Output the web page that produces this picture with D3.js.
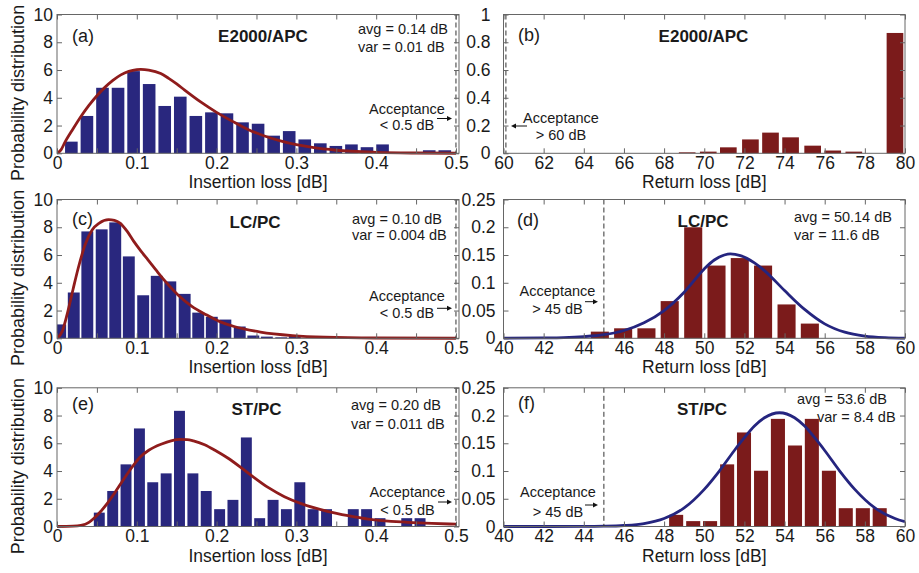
<!DOCTYPE html>
<html>
<head>
<meta charset="utf-8">
<script src="https://cdn.jsdelivr.net/npm/d3@7/dist/d3.min.js"></script>
<style>
  body { margin: 0; background: #fff; }
  svg { display: block; font-family: "Liberation Sans", Arial, sans-serif; }
  .tick line { stroke: #666; }
  .tick text { fill: #1a1a1a; font-size: 17.5px; font-family: "Liberation Sans", Arial, sans-serif; }
</style>
</head>
<body>
<svg id="chart" width="919" height="573"></svg>
<script>
// ---------- data: insertion loss (left column) ----------
const ilTicks = [0, 0.05, 0.1, 0.15, 0.2, 0.25, 0.3, 0.35, 0.4, 0.45, 0.5];
const ilProbTicks = [0, 2, 4, 6, 8, 10];

// (a) E2000/APC
const aBins = [0.018, 0.0375, 0.057, 0.0765, 0.096, 0.1155, 0.135, 0.1545, 0.174, 0.1935, 0.213, 0.2325,
  0.252, 0.2715, 0.291, 0.3105, 0.33, 0.3495, 0.369, 0.3885, 0.408, 0.4275, 0.447, 0.4665, 0.486];
const aProb = [0.84, 2.69, 4.72, 4.72, 5.92, 4.99, 3.41, 4.08, 2.69, 2.95, 2.88, 2.23,
  2.13, 1.27, 1.6, 1.0, 0.72, 0.53, 0.64, 0.44, 0.64, 0, 0, 0.22, 0.22];
const aFit = [[0, 0], [0.005, 0.25], [0.01, 0.8], [0.02, 1.75], [0.03, 2.65], [0.04, 3.45], [0.05, 4.15],
  [0.06, 4.75], [0.07, 5.25], [0.08, 5.65], [0.09, 5.9], [0.1, 6.03], [0.105, 6.05], [0.115, 6.0],
  [0.13, 5.75], [0.14, 5.4], [0.15, 5.0], [0.16, 4.55], [0.18, 3.7], [0.2, 2.95], [0.22, 2.3],
  [0.24, 1.7], [0.26, 1.25], [0.28, 0.9], [0.3, 0.62], [0.32, 0.42], [0.35, 0.22], [0.4, 0.07],
  [0.45, 0.02], [0.5, 0.005]];

// (c) LC/PC
const cBins = [0.004, 0.021, 0.038, 0.056, 0.073, 0.09, 0.108, 0.125, 0.142, 0.16, 0.177, 0.194,
  0.211, 0.229, 0.246, 0.263, 0.281, 0.298];
const cProb = [1.0, 3.3, 7.7, 7.85, 8.35, 5.9, 3.1, 4.5, 4.1, 3.2, 1.85, 1.55,
  1.35, 0.85, 0.2, 0.12, 0.07, 0.22];
const cFit = [[0, 0], [0.0065, 0.5], [0.0126, 1.7], [0.02, 3.5], [0.0268, 5.1], [0.035, 6.7], [0.044, 7.8],
  [0.053, 8.3], [0.0646, 8.55], [0.072, 8.5], [0.079, 8.3], [0.088, 7.7], [0.096, 7.0], [0.105, 6.3],
  [0.114, 5.65], [0.125, 4.85], [0.135, 4.15], [0.152, 3.1], [0.169, 2.3], [0.187, 1.7], [0.204, 1.2],
  [0.222, 0.85], [0.255, 0.45], [0.295, 0.2], [0.336, 0.08], [0.4, 0.02], [0.5, 0.003]];

// (e) ST/PC
const eBins = [0.053, 0.0698, 0.0865, 0.1033, 0.12, 0.1368, 0.1535, 0.1703, 0.187, 0.2038, 0.2205, 0.2373,
  0.254, 0.2708, 0.2875, 0.3043, 0.321, 0.3378, 0.3545, 0.3713, 0.388, 0.4048, 0.4215, 0.4383, 0.455];
const eProb = [1.0, 2.56, 4.48, 7.07, 3.19, 3.83, 8.34, 3.83, 2.56, 1.25, 1.92, 6.42,
  0.6, 1.92, 1.25, 3.19, 1.25, 1.25, 0, 1.25, 1.25, 0.6, 0, 0.6, 0.6];
const eFit = [[0, 0], [0.02, 0.02], [0.03, 0.08], [0.04, 0.3], [0.0464, 0.6], [0.055, 1.1], [0.0635, 1.7],
  [0.072, 2.4], [0.08, 3.1], [0.09, 3.95], [0.104, 5.0], [0.115, 5.5], [0.1312, 5.95], [0.143, 6.18],
  [0.154, 6.28], [0.163, 6.27], [0.171, 6.18], [0.185, 5.9], [0.198, 5.5], [0.215, 4.9], [0.2385, 3.9],
  [0.265, 2.8], [0.285, 2.15], [0.306, 1.65], [0.34, 1.08], [0.365, 0.78], [0.39, 0.53], [0.44, 0.3],
  [0.47, 0.22], [0.5, 0.17]];

// ---------- data: return loss (right column) ----------
const rlTicksB = [60, 62, 64, 66, 68, 70, 72, 74, 76, 78, 80];
const rlTicks = [40, 42, 44, 46, 48, 50, 52, 54, 56, 58, 60];
const rlProbTicksB = [0, 0.2, 0.4, 0.6, 0.8, 1];
const rlProbTicks = [0, 0.05, 0.1, 0.15, 0.2, 0.25];

// (b) E2000/APC
const bBins = [69.15, 70.2, 71.2, 72.3, 73.3, 74.3, 75.4, 76.4, 77.45, 78.5, 79.5];
const bProb = [0.007, 0.012, 0.043, 0.1, 0.149, 0.115, 0.055, 0.02, 0.012, 0, 0.867];

// (d) LC/PC
const dBins = [44.8, 45.96, 47.12, 48.28, 49.45, 50.61, 51.77, 52.93, 54.1, 55.26];
const dProb = [0.012, 0.018, 0.018, 0.067, 0.2, 0.131, 0.1445, 0.131, 0.061, 0.0265];
const dFit = [[40, 0.0002], [42, 0.0006], [43, 0.0012], [44, 0.003], [45, 0.0065], [46, 0.014], [47, 0.028],
  [48, 0.05], [49, 0.083], [50, 0.125], [50.5, 0.141], [51, 0.15], [51.3, 0.152], [51.8, 0.149],
  [52.5, 0.136], [53, 0.122], [54, 0.086], [55, 0.052], [56, 0.026], [57, 0.011], [58, 0.004],
  [59, 0.0012], [60, 0.0003]];

// (f) ST/PC
const fBins = [48.6, 49.45, 50.29, 51.14, 51.98, 52.83, 53.67, 54.52, 55.36, 56.21, 57.05, 57.9, 58.74];
const fProb = [0.021, 0.0097, 0.0097, 0.112, 0.1695, 0.1005, 0.194, 0.146, 0.194, 0.1005, 0.033, 0.033, 0.033];
const fFit = [[40, 0], [44, 0.0001], [45, 0.0005], [46, 0.0018], [47, 0.0053], [48, 0.0144], [49, 0.0335],
  [50, 0.067], [50.75, 0.1], [51.5, 0.137], [52, 0.16], [52.5, 0.181], [53, 0.196], [53.75, 0.205],
  [54.5, 0.196], [55, 0.181], [55.5, 0.16], [56, 0.137], [56.75, 0.1], [57.5, 0.067], [58.5, 0.0335],
  [59.5, 0.0144], [60, 0.0086]];

// ---------- labels ----------
const letters = ["(a)", "(b)", "(c)", "(d)", "(e)", "(f)"];
const titles = ["E2000/APC", "E2000/APC", "LC/PC", "LC/PC", "ST/PC", "ST/PC"];
const stats = [["avg = 0.14 dB", "var = 0.01 dB"], null, ["avg = 0.10 dB", "var = 0.004 dB"],
  ["avg = 50.14 dB", "var = 11.6 dB"], ["avg = 0.20 dB", "var = 0.011 dB"], ["avg = 53.6 dB", "var = 8.4 dB"]];
const acceptValue = [0.5, 60.12, 0.5, 45, 0.5, 45];
const acceptText = [["Acceptance", "< 0.5 dB"], ["Acceptance", "> 60 dB"], ["Acceptance", "< 0.5 dB"],
  ["Acceptance", "> 45 dB"], ["Acceptance", "< 0.5 dB"], ["Acceptance", "> 45 dB"]];

// ---------- layout ----------
const NAVY = "#29277e", MAROON = "#7b1b1b", RED = "#8f1c1c", BLUE = "#25257f";
const ROWS = [[14.5, 153.3], [199.5, 338.3], [387.8, 526.5]];
const LEFT_COL = {left: 57, right: 459, xDomain: [0, 0.5038]};

const panels = [
  {bins: aBins, prob: aProb, fit: aFit, barW: 0.0158, col: 0, row: 0, yPad: 4},
  {bins: bBins, prob: bProb, fit: null, barW: 0.83, col: 1, row: 0, yPad: 13, xDomain: [60, 80], xTicks: rlTicksB, yDomain: [0, 1], yTicks: rlProbTicksB},
  {bins: cBins, prob: cProb, fit: cFit, barW: 0.0149, col: 0, row: 1, yPad: 4},
  {bins: dBins, prob: dProb, fit: dFit, barW: 0.9, col: 1, row: 1, yPad: 8, xDomain: [40, 60], xTicks: rlTicks, yDomain: [0, 0.25], yTicks: rlProbTicks},
  {bins: eBins, prob: eProb, fit: eFit, barW: 0.0137, col: 0, row: 2, yPad: 4},
  {bins: fBins, prob: fProb, fit: fFit, barW: 0.7, col: 1, row: 2, yPad: 8, xDomain: [40, 60], xTicks: rlTicks, yDomain: [0, 0.25], yTicks: rlProbTicks},
];

// text placement (pixels)
const textPos = [
  {letter: [72, 41.5], title: [263, 42], stats: {x: [358, 358], y: [33.7, 52.4]}, acc: {x: 407, y: [113.5, 130]}, arrow: [437, 452, 118.5]},
  {letter: [518, 41], title: [703.5, 42], stats: null, acc: {x: 561, y: [123, 139.5]}, arrow: [527, 511, 126]},
  {letter: [72, 225], title: [255, 227.5], stats: {x: [352, 352], y: [223.7, 240.4]}, acc: {x: 407, y: [301, 317.5]}, arrow: [437, 452, 308.3]},
  {letter: [517, 226], title: [703, 226.5], stats: {x: [794, 794], y: [222, 240.4]}, acc: {x: 557.5, y: [295.7, 314]}, arrow: [585, 598, 301.7]},
  {letter: [72, 410], title: [256.5, 415], stats: {x: [351, 351], y: [410.4, 428.7]}, acc: {x: 407.5, y: [497.4, 515]}, arrow: [438, 452, 502]},
  {letter: [518, 409], title: [702, 415], stats: {x: [797, 817], y: [403.7, 422]}, acc: {x: 558, y: [497.4, 516.7]}, arrow: [585, 598, 505]},
];

const svg = d3.select("#chart");
const fmt = d3.format("~g");

function drawArrow(g, x1, x2, y) {
  const dir = Math.sign(x2 - x1);
  g.append("line")
    .attr("x1", x1).attr("x2", x2 - dir * 4).attr("y1", y).attr("y2", y)
    .attr("stroke", "#111").attr("stroke-width", 1);
  g.append("path")
    .attr("d", `M${x2},${y} L${x2 - dir * 5},${y - 2.5} L${x2 - dir * 5},${y + 2.5} Z`)
    .attr("fill", "#111");
}

function drawPanel(p, i) {
  const left = p.col === 0 ? LEFT_COL.left : 503.5;
  const right = p.col === 0 ? LEFT_COL.right : 905;
  const [top, bottom] = ROWS[p.row];
  const isIL = p.col === 0;
  const xDomain = isIL ? LEFT_COL.xDomain : p.xDomain;
  const xTicks = isIL ? ilTicks : p.xTicks;
  const yDomain = isIL ? [0, 10] : p.yDomain;
  const yTicks = isIL ? ilProbTicks : p.yTicks;
  const barColor = isIL ? NAVY : MAROON;
  const fitColor = isIL ? RED : BLUE;

  const x = d3.scaleLinear().domain(xDomain).range([left, right]);
  const y = d3.scaleLinear().domain(yDomain).range([bottom, top]);
  const g = svg.append("g");

  const clipId = "clip" + i;
  svg.append("clipPath").attr("id", clipId).append("rect")
    .attr("x", left).attr("y", top).attr("width", right - left).attr("height", bottom - top + 2);

  const plot = g.append("g").attr("clip-path", `url(#${clipId})`);
  plot.selectAll("rect")
    .data(d3.zip(p.bins, p.prob))
    .join("rect")
    .attr("x", d => x(d[0] - p.barW / 2))
    .attr("width", d => x(d[0] + p.barW / 2) - x(d[0] - p.barW / 2))
    .attr("y", d => y(d[1]))
    .attr("height", d => y(0) - y(d[1]))
    .attr("fill", barColor);

  if (p.fit) {
    plot.append("path")
      .datum(p.fit)
      .attr("d", d3.line().x(d => x(d[0])).y(d => y(d[1])).curve(d3.curveMonotoneX))
      .attr("fill", "none")
      .attr("stroke", fitColor)
      .attr("stroke-width", 2.8);
  }

  // acceptance threshold
  g.append("line")
    .attr("x1", x(acceptValue[i])).attr("x2", x(acceptValue[i]))
    .attr("y1", top).attr("y2", bottom)
    .attr("stroke", "#333").attr("stroke-width", 1).attr("stroke-dasharray", "5,3");

  // axes with inward ticks on all sides
  const labelStep = isIL ? 0.1 : null;
  const xFmt = d => (labelStep && Math.abs(d / labelStep - Math.round(d / labelStep)) > 1e-6) ? "" : fmt(d);
  g.append("g").attr("transform", `translate(0,${bottom})`)
    .call(d3.axisBottom(x).tickValues(xTicks).tickSizeInner(-5).tickSizeOuter(0).tickPadding(3).tickFormat(xFmt))
    .call(a => a.select(".domain").remove());
  g.append("g").attr("transform", `translate(0,${top})`)
    .call(d3.axisTop(x).tickValues(xTicks).tickSizeInner(-5).tickSizeOuter(0).tickFormat(""))
    .call(a => a.select(".domain").remove());
  g.append("g").attr("transform", `translate(${left},0)`)
    .call(d3.axisLeft(y).tickValues(yTicks).tickSizeInner(-5).tickSizeOuter(0).tickPadding(p.yPad).tickFormat(fmt))
    .call(a => a.select(".domain").remove());
  g.append("g").attr("transform", `translate(${right},0)`)
    .call(d3.axisRight(y).tickValues(yTicks).tickSizeInner(-5).tickSizeOuter(0).tickFormat(""))
    .call(a => a.select(".domain").remove());

  g.append("rect")
    .attr("x", left).attr("y", top).attr("width", right - left).attr("height", bottom - top)
    .attr("fill", "none").attr("stroke", "#666").attr("stroke-width", 1);

  // axis titles
  g.append("text")
    .attr("x", (left + right) / 2).attr("y", bottom + 35)
    .attr("text-anchor", "middle").attr("font-size", 17.5).attr("fill", "#1a1a1a")
    .text(isIL ? "Insertion loss [dB]" : "Return loss [dB]");
  if (isIL) {
    g.append("text")
      .attr("transform", `translate(24,${(top + bottom) / 2 + 9}) rotate(-90)`)
      .attr("text-anchor", "middle").attr("font-size", 18).attr("fill", "#1a1a1a")
      .text("Probability distribution");
  }

  // annotations
  const t = textPos[i];
  g.append("text").attr("x", t.letter[0]).attr("y", t.letter[1])
    .attr("font-size", 18).attr("fill", "#1a1a1a").text(letters[i]);
  g.append("text").attr("x", t.title[0]).attr("y", t.title[1])
    .attr("text-anchor", "middle").attr("font-size", 17).attr("font-weight", "bold").attr("fill", "#1a1a1a")
    .text(titles[i]);
  if (stats[i]) {
    stats[i].forEach((s, k) => {
      g.append("text").attr("x", t.stats.x[k]).attr("y", t.stats.y[k])
        .attr("font-size", 14.5).attr("fill", "#1a1a1a").text(s);
    });
  }
  acceptText[i].forEach((s, k) => {
    g.append("text").attr("x", t.acc.x).attr("y", t.acc.y[k])
      .attr("text-anchor", "middle").attr("font-size", 14.5).attr("fill", "#1a1a1a").text(s);
  });
  drawArrow(g, t.arrow[0], t.arrow[1], t.arrow[2]);
}

panels.forEach(drawPanel);
</script>
</body>
</html>
